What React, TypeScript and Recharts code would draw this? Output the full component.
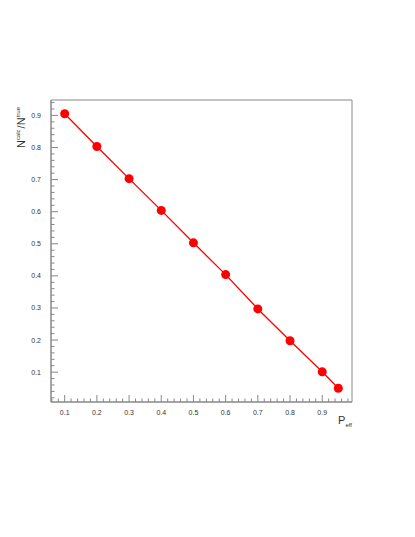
import React from 'react';
import { LineChart, Line, XAxis, YAxis, ReferenceArea, Label } from 'recharts';

const pEff = [0.1, 0.2, 0.3, 0.4, 0.5, 0.6, 0.7, 0.8, 0.9, 0.95];
const ratio = [0.905, 0.803, 0.703, 0.604, 0.503, 0.404, 0.297, 0.198, 0.101, 0.05];

const xDomain = [0.0575, 0.9925];
const yDomain = [0.007, 0.948];

const data = pEff.map((p, i) => ({ p, r: ratio[i] }));

// minor ticks every 0.02 between the domain edges
const minorTicks = (lo: number, hi: number) => {
  const out: number[] = [];
  for (let k = Math.ceil(lo / 0.02); k * 0.02 <= hi; k++) out.push(Math.round(k * 2) / 100);
  return out;
};
const xTicks = minorTicks(xDomain[0], xDomain[1]);
const yTicks = minorTicks(yDomain[0], yDomain[1]);

const isMajor = (v: number) => Math.abs(v * 10 - Math.round(v * 10)) < 1e-6;

const font = 'Liberation Sans, Arial, sans-serif';
const axisColor = '#888';

const XTick = (props: any) => {
  const { x, y, payload } = props;
  const major = isMajor(payload.value);
  return (
    <g>
      <line x1={x} x2={x} y1={y} y2={y - (major ? 7 : 3.5)} stroke={axisColor} />
      {major && (
        <text x={x} y={y + 13} textAnchor="middle" fontSize={7} fill="#333" fontFamily={font}>
          {payload.value.toFixed(1)}
        </text>
      )}
    </g>
  );
};

const YTick = (props: any) => {
  const { x, y, payload } = props;
  const major = isMajor(payload.value);
  return (
    <g>
      <line x1={x} x2={x + (major ? 7 : 3.5)} y1={y} y2={y} stroke={axisColor} />
      {major && (
        <text x={x - 10} y={y + 2.5} textAnchor="end" fontSize={7} fill="#333" fontFamily={font}>
          {payload.value.toFixed(1)}
        </text>
      )}
    </g>
  );
};

export default function App() {
  return (
    <div style={{ position: 'absolute', left: 0, top: 0, background: '#fff' }}>
      <LineChart width={415} height={537} data={data} margin={{ top: 100, right: 63, bottom: 115, left: 21 }}>
        <ReferenceArea
          x1={xDomain[0]}
          x2={xDomain[1]}
          y1={yDomain[0]}
          y2={yDomain[1]}
          fill="none"
          fillOpacity={0}
          stroke={axisColor}
          strokeWidth={1}
        />
        <XAxis
          dataKey="p"
          type="number"
          domain={xDomain}
          ticks={xTicks}
          interval={0}
          height={20}
          tickSize={0}
          tickMargin={0}
          tick={<XTick />}
          axisLine={{ stroke: axisColor }}
        >
          <Label
            content={() => (
              <text x={352} y={424} textAnchor="end" fontFamily={font} fill="#333">
                <tspan fontSize={11}>P</tspan>
                <tspan fontSize={6} dy={3}>eff</tspan>
              </text>
            )}
          />
        </XAxis>
        <YAxis
          type="number"
          domain={yDomain}
          ticks={yTicks}
          interval={0}
          width={30}
          tickSize={0}
          tickMargin={0}
          tick={<YTick />}
          axisLine={{ stroke: axisColor }}
        >
          <Label
            content={() => (
              <text x={25} y={148} transform="rotate(-90 25 148)" textAnchor="start" fontFamily={font} fill="#333">
                <tspan fontSize={11}>N</tspan>
                <tspan fontSize={6} dy={-5}>calc</tspan>
                <tspan fontSize={11} dy={5} dx={1}>/</tspan>
                <tspan fontSize={11}>N</tspan>
                <tspan fontSize={6} dy={-5}>true</tspan>
              </text>
            )}
          />
        </YAxis>
        <Line
          dataKey="r"
          stroke="#ff0000"
          strokeWidth={1.3}
          isAnimationActive={false}
          dot={{ r: 4.5, fill: '#ff0000', stroke: '#ff0000', strokeWidth: 0 }}
          activeDot={false}
        />
      </LineChart>
    </div>
  );
}
